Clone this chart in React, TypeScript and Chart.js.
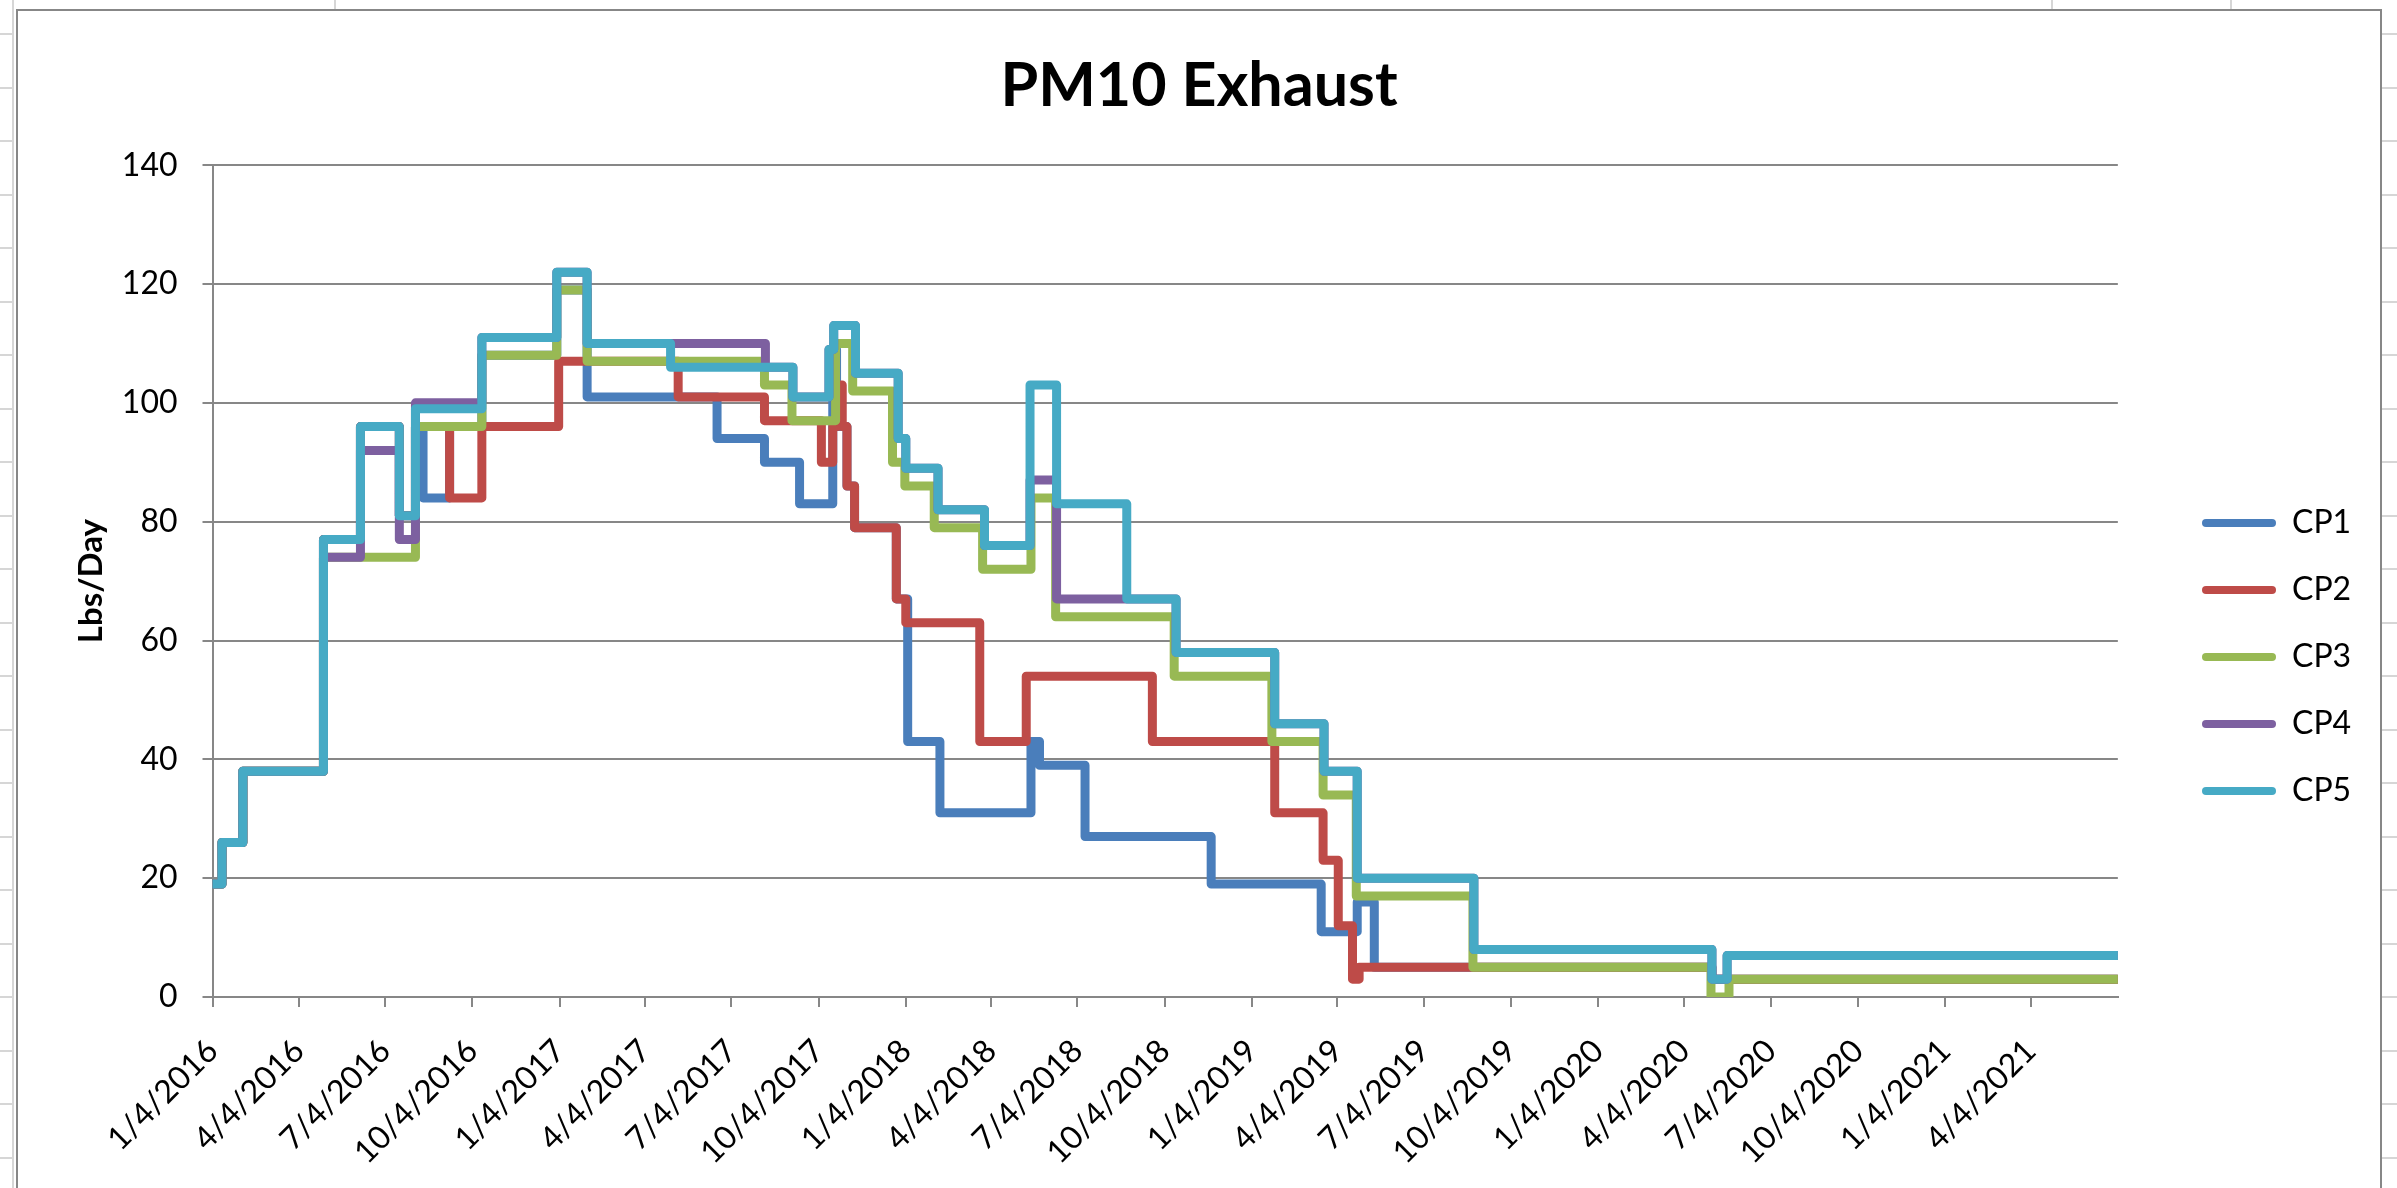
import React, { useEffect, useRef } from "react";
import { Chart, registerables } from "chart.js";

Chart.register(...registerables);

type Pt = [string, number];

// ---------------- DATA ----------------
const TITLE = "PM10 Exhaust";
const Y_TITLE = "Lbs/Day";
const SERIES_NAMES = ["CP1", "CP2", "CP3", "CP4", "CP5"];
const SERIES_COLORS = ["#4A7EBB", "#BE4B48", "#98B954", "#7D60A0", "#46AAC5"];
const X_START = "1/4/2016";
const X_END = "7/5/2021";
const Y_MIN = 0;
const Y_MAX = 140;
const Y_STEP = 20;
const TICK_LABELS = [
  "1/4/2016", "4/4/2016", "7/4/2016", "10/4/2016",
  "1/4/2017", "4/4/2017", "7/4/2017", "10/4/2017",
  "1/4/2018", "4/4/2018", "7/4/2018", "10/4/2018",
  "1/4/2019", "4/4/2019", "7/4/2019", "10/4/2019",
  "1/4/2020", "4/4/2020", "7/4/2020", "10/4/2020",
  "1/4/2021", "4/4/2021",
];

// each entry: [date a level starts, value of that level]
const CP1: Pt[] = [
  ["1/4/2016", 19], ["1/14/2016", 26], ["2/5/2016", 38], ["4/30/2016", 77],
  ["6/8/2016", 96], ["7/19/2016", 81], ["8/5/2016", 96], ["8/13/2016", 84],
  ["9/10/2016", 96], ["10/14/2016", 108], ["1/1/2017", 119], ["2/2/2017", 101],
  ["6/19/2017", 94], ["8/8/2017", 90], ["9/14/2017", 83], ["10/19/2017", 109],
  ["10/23/2017", 96], ["11/3/2017", 86], ["11/11/2017", 79], ["12/25/2017", 67],
  ["1/6/2018", 43], ["2/9/2018", 31], ["5/16/2018", 43], ["5/25/2018", 39],
  ["7/12/2018", 27], ["11/22/2018", 19], ["3/18/2019", 11], ["4/25/2019", 16],
  ["5/13/2019", 5], ["5/3/2020", 3], ["7/5/2021", 3],
];

const CP2: Pt[] = [
  ["1/4/2016", 19], ["1/14/2016", 26], ["2/5/2016", 38], ["4/30/2016", 77],
  ["6/8/2016", 96], ["7/19/2016", 81], ["8/5/2016", 96], ["9/10/2016", 84],
  ["10/14/2016", 96], ["1/3/2017", 107], ["5/9/2017", 101], ["8/8/2017", 97],
  ["10/7/2017", 90], ["10/19/2017", 96], ["10/24/2017", 103], ["10/29/2017", 96],
  ["11/3/2017", 86], ["11/11/2017", 79], ["12/25/2017", 67], ["1/4/2018", 63],
  ["3/23/2018", 43], ["5/11/2018", 54], ["9/21/2018", 43], ["1/28/2019", 31],
  ["3/20/2019", 23], ["4/5/2019", 12], ["4/20/2019", 3], ["4/27/2019", 5],
  ["5/3/2020", 3], ["7/5/2021", 3],
];

const CP3: Pt[] = [
  ["1/4/2016", 19], ["1/14/2016", 26], ["2/5/2016", 38], ["4/30/2016", 74],
  ["8/5/2016", 96], ["10/14/2016", 108], ["1/1/2017", 119], ["2/2/2017", 107],
  ["8/8/2017", 103], ["9/6/2017", 97], ["10/22/2017", 110], ["11/9/2017", 102],
  ["12/21/2017", 90], ["1/3/2018", 86], ["2/3/2018", 79], ["3/26/2018", 72],
  ["5/16/2018", 84], ["6/11/2018", 64], ["10/14/2018", 54], ["1/25/2019", 43],
  ["3/20/2019", 34], ["4/24/2019", 17], ["8/25/2019", 5], ["5/2/2020", 0],
  ["5/21/2020", 3], ["7/5/2021", 3],
];

const CP4: Pt[] = [
  ["1/4/2016", 19], ["1/14/2016", 26], ["2/5/2016", 38], ["4/30/2016", 74],
  ["6/8/2016", 92], ["7/19/2016", 77], ["8/5/2016", 100], ["10/14/2016", 111],
  ["1/1/2017", 122], ["2/2/2017", 110], ["8/9/2017", 106], ["9/7/2017", 101],
  ["10/15/2017", 109], ["10/20/2017", 113], ["11/12/2017", 105], ["12/27/2017", 94],
  ["1/4/2018", 89], ["2/7/2018", 82], ["3/28/2018", 76], ["5/15/2018", 87],
  ["6/12/2018", 67], ["10/16/2018", 58], ["1/28/2019", 46], ["3/21/2019", 38],
  ["4/25/2019", 20], ["8/26/2019", 8], ["5/3/2020", 3], ["5/19/2020", 7],
  ["7/5/2021", 7],
];

const CP5: Pt[] = [
  ["1/4/2016", 19], ["1/14/2016", 26], ["2/5/2016", 38], ["4/30/2016", 77],
  ["6/8/2016", 96], ["7/19/2016", 81], ["8/5/2016", 99], ["10/14/2016", 111],
  ["1/1/2017", 122], ["2/2/2017", 110], ["5/1/2017", 106], ["9/7/2017", 101],
  ["10/15/2017", 109], ["10/20/2017", 113], ["11/12/2017", 105], ["12/27/2017", 94],
  ["1/4/2018", 89], ["2/7/2018", 82], ["3/28/2018", 76], ["5/15/2018", 103],
  ["6/12/2018", 83], ["8/25/2018", 67], ["10/16/2018", 58], ["1/28/2019", 46],
  ["3/21/2019", 38], ["4/25/2019", 20], ["8/26/2019", 8], ["5/3/2020", 3],
  ["5/19/2020", 7], ["7/5/2021", 7],
];

const SERIES: Pt[][] = [CP1, CP2, CP3, CP4, CP5];

// ---------------- HELPERS ----------------
const DAY = 86400000;
function parseDate(s: string): number {
  const [m, d, y] = s.split("/").map(Number);
  return Date.UTC(y, m - 1, d) / DAY;
}
function formatDate(v: number): string {
  const dt = new Date(Math.round(v) * DAY);
  return `${dt.getUTCMonth() + 1}/${dt.getUTCDate()}/${dt.getUTCFullYear()}`;
}

const GRID = "#878787";
const SHEET = "#d6d6d6";
const FONT = "Lato, 'Open Sans', 'DejaVu Sans', sans-serif";

const CANVAS_W = 2366;
const CANVAS_H = 1296;
const PLOT_RIGHT = 2101; // desired right edge of plot inside canvas
const LEGEND_ITEM_X = 2186; // desired left of legend swatches inside canvas
const LEGEND_PAD = 35;
const RIGHT_PAD = 70;

const layoutTweak = {
  id: "layoutTweak",
  afterLayout(chart: any) {
    const lg = chart.legend;
    if (lg) {
      const dx = LEGEND_ITEM_X - LEGEND_PAD - lg.left;
      lg.left += dx;
      lg.right += dx;
    }
    const tb = chart.titleBlock;
    if (tb) {
      tb.left = 0;
      tb.right = chart.width;
    }
  },
};

export default function App() {
  const canvasRef = useRef<HTMLCanvasElement | null>(null);

  useEffect(() => {
    if (!canvasRef.current) return;
    Chart.defaults.font.family = FONT;
    Chart.defaults.color = "#000";
    const chart = new Chart(canvasRef.current, {
      type: "line",
      data: {
        datasets: SERIES.map((pts, i) => ({
          label: SERIES_NAMES[i],
          data: pts.map(([d, v]) => ({ x: parseDate(d), y: v })),
          borderColor: SERIES_COLORS[i],
          backgroundColor: SERIES_COLORS[i],
          borderWidth: 9,
          pointRadius: 0,
          pointHoverRadius: 0,
          stepped: true,
          borderCapStyle: "round",
          borderJoinStyle: "round",
          fill: false,
          order: SERIES.length - i,
        })),
      },
      options: {
        responsive: false,
        animation: false,
        devicePixelRatio: 1,
        events: [],
        layout: { padding: { left: 0, top: 0, bottom: 0, right: RIGHT_PAD } },
        scales: {
          x: {
            type: "linear",
            min: parseDate(X_START),
            max: parseDate(X_END),
            afterBuildTicks: (scale: any) => {
              scale.ticks = TICK_LABELS.map((l) => ({ value: parseDate(l) }));
            },
            afterFit: (scale: any) => {
              scale.height = 308;
            },
            grid: {
              drawOnChartArea: false,
              drawTicks: true,
              tickLength: 10,
              color: GRID,
              lineWidth: 2,
            },
            border: { color: GRID, width: 2 },
            ticks: {
              autoSkip: false,
              maxRotation: 45,
              minRotation: 45,
              padding: 25,
              color: "#000",
              font: { size: 32 },
              callback: (v: any) => formatDate(Number(v)),
            },
          },
          y: {
            min: Y_MIN,
            max: Y_MAX,
            afterFit: (scale: any) => {
              scale.width = 196.5;
            },
            ticks: {
              stepSize: Y_STEP,
              padding: 25,
              color: "#000",
              font: { size: 32 },
            },
            grid: { color: GRID, lineWidth: 2, tickLength: 10, drawTicks: true },
            border: { color: GRID, width: 2 },
            title: {
              display: true,
              text: Y_TITLE,
              color: "#000",
              font: { size: 33, weight: "bold" },
              padding: { top: 55.6, bottom: 0 },
            },
          },
        },
        plugins: {
          title: {
            display: true,
            text: TITLE,
            color: "#000",
            font: { size: 61, weight: "bold" },
            padding: { top: 41, bottom: 42 },
          },
          legend: {
            position: "right",
            align: "center",
            labels: {
              boxWidth: 74,
              boxHeight: 8,
              padding: LEGEND_PAD,
              color: "#000",
              font: { size: 32 },
              useBorderRadius: true,
              borderRadius: 4,
              generateLabels: (c: any) =>
                (Chart.defaults.plugins.legend.labels.generateLabels as any)(c).map(
                  (it: any) => ({ ...it, lineWidth: 0 })
                ),
              sort: (a: any, b: any) => a.datasetIndex - b.datasetIndex,
            },
          },
          tooltip: { enabled: false },
        },
      } as any,
      plugins: [layoutTweak],
    });
    return () => chart.destroy();
  }, []);

  const rowLines: number[] = [];
  for (let k = 0; k < 23; k++) rowLines.push(Math.round(33 + 53.5 * k));
  const colLines = [334, 2051, 2230];

  return (
    <div
      style={{
        position: "absolute",
        left: 0,
        top: 0,
        width: 2397,
        height: 1188,
        overflow: "hidden",
        background: "#fff",
      }}
    >
      <div style={{ position: "absolute", left: 12, top: 0, width: 2, height: 1188, background: SHEET }} />
      {rowLines.map((y) => (
        <div key={"l" + y} style={{ position: "absolute", left: 0, top: y, width: 13, height: 2, background: SHEET }} />
      ))}
      {rowLines.map((y) => (
        <div key={"r" + y} style={{ position: "absolute", left: 2382, top: y, width: 15, height: 2, background: SHEET }} />
      ))}
      {colLines.map((x) => (
        <div key={"c" + x} style={{ position: "absolute", left: x, top: 0, width: 2, height: 9, background: SHEET }} />
      ))}
      <div
        style={{
          position: "absolute",
          left: 16,
          top: 9,
          width: CANVAS_W,
          height: 1400,
          boxSizing: "border-box",
          border: "2px solid " + GRID,
          background: "#fff",
        }}
      />
      <canvas
        ref={canvasRef}
        width={CANVAS_W}
        height={CANVAS_H}
        style={{ position: "absolute", left: 16, top: 9, width: CANVAS_W, height: CANVAS_H }}
      />
    </div>
  );
}
